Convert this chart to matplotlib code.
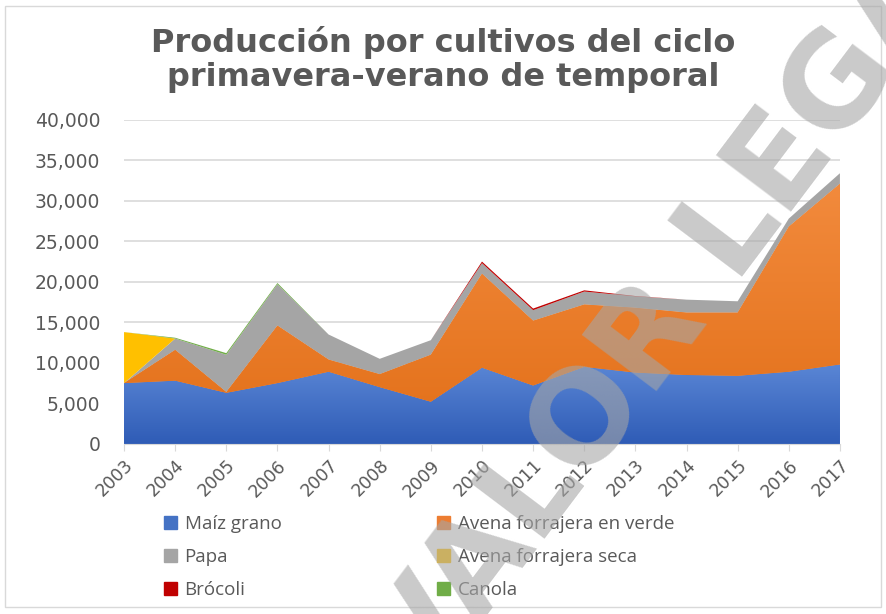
import matplotlib.pyplot as plt
import numpy as np
from matplotlib.patches import Rectangle, Patch
from matplotlib.colors import LinearSegmentedColormap

years = list(range(2003, 2018))
maiz = [7500, 7800, 6300, 7500, 8900, 7000, 5200, 9400, 7200, 9500, 8800, 8500, 8400, 8900, 9800]
avena_verde = [0, 3800, 100, 7100, 1500, 1600, 5800, 11600, 8000, 7700, 8000, 7700, 7800, 17900, 22300]
papa = [0, 1400, 4600, 5100, 3100, 1900, 1800, 1300, 1300, 1600, 1400, 1600, 1400, 1000, 1300]
avena_seca = [6300, 0, 0, 0, 0, 0, 0, 0, 0, 0, 0, 0, 0, 0, 0]
brocoli = [0, 0, 0, 0, 0, 0, 0, 200, 200, 150, 50, 0, 0, 0, 0]
canola = [0, 100, 200, 150, 0, 0, 0, 0, 0, 0, 0, 0, 0, 0, 0]

names = ['Maíz grano', 'Avena forrajera en verde', 'Papa',
         'Avena forrajera seca', 'Brócoli', 'Canola']
colors = ['#4472C4', '#ED7D31', '#A5A5A5', '#FFC000', '#C00000', '#70AD47']
# gradient top/bottom colours for the two big areas
grad = {0: ('#5b87d6', '#2f5cb6'), 1: ('#f38c3f', '#e26f18')}

plt.rcParams['font.family'] = ['Open Sans', 'DejaVu Sans']
txt_col = '#595959'

fig = plt.figure(figsize=(8.86, 6.14), dpi=100)
ax = fig.add_axes([0.14, 0.277, 0.808, 0.528])

polys = ax.stackplot(years, maiz, avena_verde, papa, avena_seca, brocoli, canola,
                     colors=colors, linewidth=0, zorder=2)

# vertical gradient on maiz / avena verde
for i, (c_top, c_bot) in grad.items():
    g = np.linspace(0, 1, 256).reshape(-1, 1)
    cm = LinearSegmentedColormap.from_list('g%d' % i, [c_bot, c_top])
    im = ax.imshow(g, cmap=cm, aspect='auto', origin='lower',
                   extent=[2003, 2017, 0, 34000 if i == 1 else 10000], zorder=2.5)
    im.set_clip_path(polys[i].get_paths()[0], transform=ax.transData)

ax.set_xlim(2003, 2017)
ax.set_ylim(0, 40000)
ax.set_yticks(range(0, 40001, 5000))
ax.set_yticklabels([f'{v:,}' for v in range(0, 40001, 5000)], family='DejaVu Sans')
ax.set_xticks(years)
ax.set_xticklabels([str(y) for y in years], rotation=45, ha='right',
                   rotation_mode='anchor', family='DejaVu Sans')
ax.grid(axis='y', color='#d9d9d9', linewidth=1.2, zorder=0)
ax.set_axisbelow(True)
for s in ['top', 'right', 'left']:
    ax.spines[s].set_visible(False)
ax.spines['bottom'].set_color('#d9d9d9')
ax.tick_params(axis='y', length=0, pad=17, labelsize=13.5, labelcolor=txt_col)
ax.tick_params(axis='x', length=5, color='#d9d9d9', pad=4, labelsize=12.5, labelcolor=txt_col)

fig.text(0.5, 0.931, 'Producción por cultivos del ciclo', ha='center', va='center',
         fontsize=23, fontweight='bold', color=txt_col, family='DejaVu Sans')
fig.text(0.5, 0.873, 'primavera-verano de temporal', ha='center', va='center',
         fontsize=23, fontweight='bold', color=txt_col, family='DejaVu Sans')

order = [0, 2, 4, 1, 3, 5]
handles = [Patch(color=colors[k]) for k in order]
labels = [names[k] for k in order]
fig.legend(handles, labels, ncol=2, loc='upper left', bbox_to_anchor=(0.166, 0.188),
           frameon=False, fontsize=13.5, labelcolor=txt_col, handlelength=0.7,
           handleheight=0.7, handletextpad=0.4, columnspacing=8.3, labelspacing=0.8)

# watermark
fig.text(0.777, 0.528, 'VALOR LEGAL', ha='center', va='center', rotation=53,
         fontsize=92, fontweight='bold', color='#a6a6a6', alpha=0.6,
         family='DejaVu Sans', zorder=10)

fig.patches.append(Rectangle((0.006, 0.012), 0.988, 0.978, transform=fig.transFigure,
                             fill=False, edgecolor='#d9d9d9', linewidth=1))

fig.savefig('out.png', dpi=100)
